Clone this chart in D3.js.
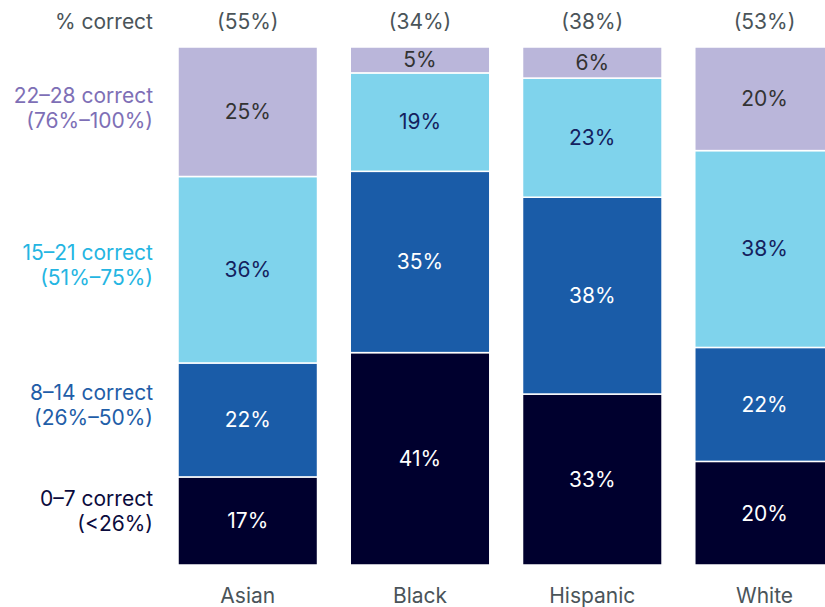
<!DOCTYPE html>
<html><head><meta charset="utf-8">
<script src="https://cdn.jsdelivr.net/npm/d3@7"></script>
<style>
body{margin:0;background:#fff;}
svg{display:block;font-family:Inter, Roboto, sans-serif;}
</style></head>
<body><svg id="c" width="825" height="607"></svg>
<script>
const groups = ["Asian","Black","Hispanic","White"];
const overall = ["(55%)","(34%)","(38%)","(53%)"];
const bands = ["0–7","8–14","15–21","22–28"];
const bandLines = [["0–7 correct","(<26%)"],["8–14 correct","(26%–50%)"],["15–21 correct","(51%–75%)"],["22–28 correct","(76%–100%)"]];
// values per band (bottom to top), per group
const v0_7   = [17,41,33,20];
const v8_14  = [22,35,38,22];
const v15_21 = [36,19,23,38];
const v22_28 = [25,5,6,20];
const headerLabel = "% correct";

const fills = ["#00002e","#1a5ca8","#7fd3ec","#bab6da"];
const textFills = ["#ffffff","#ffffff","#14215e","#333333"];
const legendFills = ["#0b0b3d","#1f5ea8","#24b5e2","#7e6fb6"];
const legendY = [511,405,265,108];
const FS = 21;

const series = [v0_7,v8_14,v15_21,v22_28];
const rows = groups.map((g,i)=>{
  const r={group:g};
  bands.forEach((b,j)=>r[b]=series[j][i]);
  return r;
});
const stacked = d3.stack().keys(bands)(rows);

const svg = d3.select("#c");
const x = d3.scaleBand().domain(groups).range([178, 178+3*172.3+139.4]).paddingInner(0.19).paddingOuter(0);
const y = d3.scaleLinear().domain([0,100]).range([565,47]);

const layer = svg.selectAll("g.layer").data(stacked).join("g").attr("class","layer");
layer.selectAll("rect").data((d,i)=>d.map(p=>({p,i}))).join("rect")
  .attr("x",d=>x(d.p.data.group))
  .attr("width",x.bandwidth())
  .attr("y",d=>y(d.p[1]))
  .attr("height",d=>y(d.p[0])-y(d.p[1]))
  .attr("fill",d=>fills[d.i])
  .attr("stroke","#ffffff").attr("stroke-width",1.5);

layer.selectAll("text").data((d,i)=>d.map(p=>({p,i}))).join("text")
  .attr("x",d=>x(d.p.data.group)+x.bandwidth()/2)
  .attr("y",d=>(y(d.p[0])+y(d.p[1]))/2)
  .attr("dy","0.35em")
  .attr("text-anchor","middle")
  .attr("font-size",FS)
  .attr("fill",d=>textFills[d.i])
  .text(d=>(d.p[1]-d.p[0])+"%");

// header
svg.append("text").attr("x",153).attr("y",22).attr("dy","0.35em").attr("text-anchor","end")
  .attr("font-size",FS).attr("fill","#4a5459").text(headerLabel);
svg.selectAll("text.ov").data(groups).join("text").attr("class","ov")
  .attr("x",d=>x(d)+x.bandwidth()/2).attr("y",22).attr("dy","0.35em")
  .attr("text-anchor","middle").attr("font-size",FS).attr("fill","#4a5459")
  .text((d,i)=>overall[i]);

// x axis labels
const xa = svg.append("g").attr("transform","translate(0,596)")
  .call(d3.axisBottom(x).tickSize(0).tickPadding(0));
xa.select(".domain").remove();
xa.selectAll("text").attr("font-size",FS).attr("fill","#4a5459")
  .attr("font-family","Inter, Roboto, sans-serif").attr("dy","0.35em").attr("y",0);

// legend
bandLines.forEach((lines,i)=>{
  const t = svg.append("text").attr("text-anchor","end").attr("font-size",FS).attr("fill",legendFills[i]);
  lines.forEach((l,k)=>{
    t.append("tspan").attr("x",153).attr("y",legendY[i]+(k-0.5)*25).attr("dy","0.35em").text(l);
  });
});
</script></body></html>
